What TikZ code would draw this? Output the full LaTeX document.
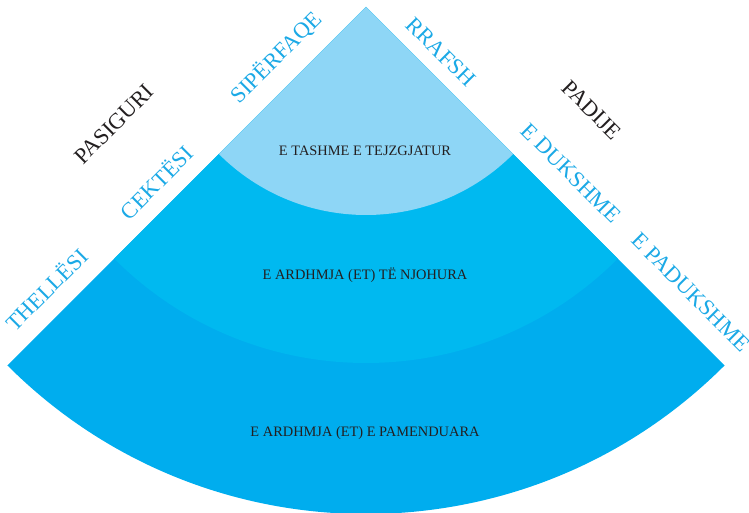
\documentclass[tikz,border=0pt]{standalone}
\usepackage{fontspec}
\setmainfont{Liberation Serif}
\definecolor{cInner}{HTML}{8ED6F6}
\definecolor{cMid}{HTML}{00B9F0}
\definecolor{cOuter}{HTML}{00ADEE}
\definecolor{cLab}{HTML}{1BA9E6}
\definecolor{cDark}{HTML}{231F20}
\tikzset{
  band/.style={text=cDark, inner sep=0pt, text height=0.662em, text depth=0pt, font=\fontsize{14.4}{16}\selectfont},
  edgelab/.style={text=cLab, inner sep=0pt, text height=0.662em, text depth=0pt, font=\fontsize{22.5}{25}\selectfont},
  sidelab/.style={edgelab, text=cDark},
}
\begin{document}
\begin{tikzpicture}[x=1pt,y=1pt]
\useasboundingbox (0,0) rectangle (749,513);
\coordinate (apex) at (366,506);
\fill[cOuter] (apex) -- ++(225:507) arc[start angle=225, end angle=315, radius=507] -- cycle;
\fill[cMid] (apex) -- ++(225:356) arc[start angle=225, end angle=315, radius=356] -- cycle;
\fill[cInner] (apex) -- ++(225:208) arc[start angle=225, end angle=315, radius=208] -- cycle;
\node[band] (t1) at (365,361) {E TASHME E TEJZGJATUR};
\node[band] (t2) at (365,237) {E ARDHMJA (ET) TË NJOHURA};
\node[band] (t3) at (365,80) {E ARDHMJA (ET) E PAMENDUARA};
\node[edgelab, rotate=45] (l1) at (279,453) {SIPËRFAQE};
\node[edgelab, rotate=45] (l2) at (160,327) {CEKTËSI};
\node[edgelab, rotate=45] (l3) at (50,220) {THELLËSI};
\node[sidelab, rotate=45] (l4) at (117,386) {PASIGURI};
\node[edgelab, rotate=-45] (r1) at (438,458) {RRAFSH};
\node[sidelab, rotate=-45] (r4) at (589,400) {PADIJE};
\node[edgelab, rotate=-45] (r2) at (568,337) {E DUKSHME};
\node[edgelab, rotate=-45] (r3) at (688,218) {E PADUKSHME};
\end{tikzpicture}
\end{document}
